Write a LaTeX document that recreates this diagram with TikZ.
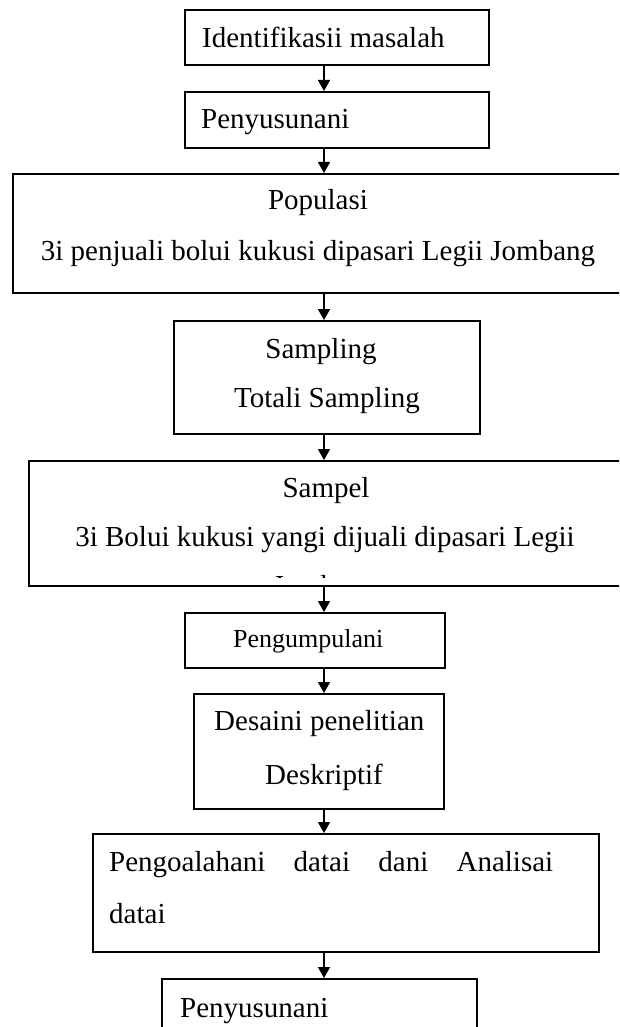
\documentclass[tikz,border=0pt]{standalone}
\usepackage{fontspec}
\setmainfont{Liberation Serif}
\usetikzlibrary{arrows.meta}
\begin{document}
\begin{tikzpicture}[x=1pt,y=-1pt,
  box/.style={draw, line width=1.6pt, rectangle, anchor=north west, inner sep=0pt},
  txt/.style={inner sep=0pt, font=\fontsize{29}{35}\selectfont},
  smalltxt/.style={inner sep=0pt, font=\fontsize{26}{31}\selectfont},
  arr/.style={line width=1.6pt, -{Triangle[length=11pt,width=12pt]}}]
\useasboundingbox (0,0) rectangle (619,1027);
\clip (0,0) rectangle (619,1027);
\coordinate (ax) at (324,0);
% boxes
\node[box, minimum width=304pt, minimum height=55pt] (b1) at (184,9) {};
\node[box, minimum width=304pt, minimum height=56pt] (b2) at (184,91) {};
\node[box, minimum width=640pt, minimum height=119pt] (b3) at (12,173) {};
\node[box, minimum width=306pt, minimum height=113pt] (b4) at (173,320) {};
\node[box, minimum width=620pt, minimum height=125pt] (b5) at (28,460) {};
\node[box, minimum width=260pt, minimum height=55pt] (b6) at (184,612) {};
\node[box, minimum width=250pt, minimum height=115pt] (b7) at (193,693) {};
\node[box, minimum width=506pt, minimum height=118pt] (b8) at (92,833) {};
\node[box, minimum width=315pt, minimum height=70pt] (b9) at (161,978) {};
% texts
\node[txt, anchor=base west] (t1) at (202,48) {Identifikasii masalah};
\node[txt, anchor=base west] (t2) at (201,129) {Penyusunani};
\node[txt, anchor=base] (t3a) at (318,209) {Populasi};
\node[txt, anchor=base] (t3b) at (318,260) {3i penjuali bolui kukusi dipasari Legii Jombang};
\node[txt, anchor=base] (t4a) at (321,358) {Sampling};
\node[txt, anchor=base] (t4b) at (327,407) {Totali Sampling};
\node[txt, anchor=base] (t5a) at (326,497) {Sampel};
\node[txt, anchor=base] (t5b) at (325,546) {3i Bolui kukusi yangi dijuali dipasari Legii};
\begin{scope}
\clip (0,0) rectangle (619,577);
\node[txt, anchor=base] (t5c) at (325,595) {Jombang};
\end{scope}
\node[smalltxt, anchor=base west] (t6) at (233,647) {Pengumpulani};
\node[txt, anchor=base west] (t7a) at (214,730) {Desaini penelitian};
\node[txt, anchor=base west] (t7b) at (265,784) {Deskriptif};
\node[txt, anchor=base west] (t8a) at (109,871) {\makebox[444pt][s]{Pengoalahani datai dani Analisai}};
\node[txt, anchor=base west] (t8b) at (109,923) {datai};
\node[txt, anchor=base west] (t9) at (180,1017) {Penyusunani};
% arrows
\draw[arr] (b1.south -| ax) -- (b2.north -| ax);
\draw[arr] (b2.south -| ax) -- (b3.north -| ax);
\draw[arr] (b3.south -| ax) -- (b4.north -| ax);
\draw[arr] (b4.south -| ax) -- (b5.north -| ax);
\draw[arr] (b5.south -| ax) -- (b6.north -| ax);
\draw[arr] (b6.south -| ax) -- (b7.north -| ax);
\draw[arr] (b7.south -| ax) -- (b8.north -| ax);
\draw[arr] (b8.south -| ax) -- (b9.north -| ax);
\end{tikzpicture}
\end{document}
